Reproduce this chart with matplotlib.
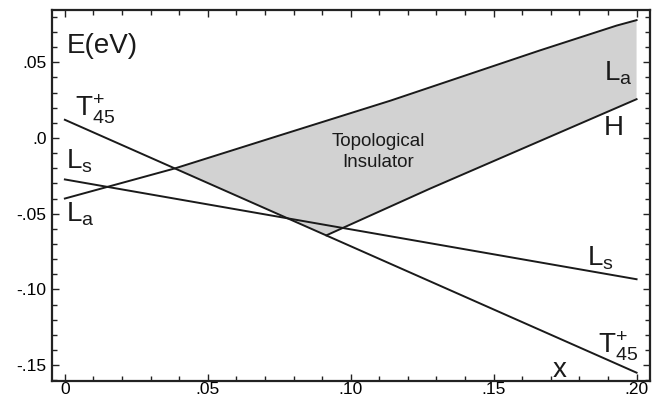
import matplotlib
matplotlib.use("Agg")
import matplotlib.pyplot as plt
import numpy as np
from matplotlib.ticker import MultipleLocator, FixedLocator, FixedFormatter

plt.rcParams['font.family'] = ['Liberation Sans', 'DejaVu Sans']
plt.rcParams['mathtext.fontset'] = 'custom'
plt.rcParams['mathtext.rm'] = 'Liberation Sans'
plt.rcParams['mathtext.it'] = 'Liberation Sans'

# Data
t45_x = [0.0, 0.20]
t45_y = [0.012, -0.155]

ls_x = [0.0, 0.20]
ls_y = [-0.0274, -0.0933]

la_x = [0.0, 0.0385, 0.075, 0.114, 0.166, 0.193, 0.20]
la_y = [-0.040, -0.0201, 0.0016, 0.0247, 0.0577, 0.0742, 0.0778]

h_x = [0.0915, 0.1277, 0.20]
h_y = [-0.0643, -0.0335, 0.0256]

# Shaded region (topological insulator): between L_a and T45+/H
shade_top_x = [0.0385, 0.075, 0.114, 0.166, 0.193, 0.20]
shade_top_y = [-0.0201, 0.0016, 0.0247, 0.0577, 0.0742, 0.0778]
shade_bot_x = [0.0385, 0.0915, 0.1277, 0.20]
shade_bot_y = [-0.0201, -0.0643, -0.0335, 0.0256]

xticks = [0.0, 0.05, 0.10, 0.15, 0.20]
xticklabels = ['0', '.05', '.10', '.15', '.20']
yticks = [-0.15, -0.10, -0.05, 0.0, 0.05]
yticklabels = ['-.15', '-.10', '-.05', '.0', '.05']

fig = plt.figure(figsize=(6.72, 3.98), dpi=100)
ax = fig.add_axes([52/672, 1 - 381/398, (650-52)/672, (381-10)/398])

poly_x = shade_top_x + shade_bot_x[::-1]
poly_y = shade_top_y + shade_bot_y[::-1]
ax.fill(poly_x, poly_y, color='#d2d2d2', lw=0, zorder=1)

lw = 1.4
ax.plot(t45_x, t45_y, color='#1a1a1a', lw=lw, zorder=2)
ax.plot(ls_x, ls_y, color='#1a1a1a', lw=lw, zorder=2)
ax.plot(la_x, la_y, color='#1a1a1a', lw=lw, zorder=2)
ax.plot(h_x, h_y, color='#1a1a1a', lw=lw, zorder=2)

ax.set_xlim(-0.0045, 0.2047)
ax.set_ylim(-0.1605, 0.0845)

ax.xaxis.set_major_locator(FixedLocator(xticks))
ax.xaxis.set_major_formatter(FixedFormatter(xticklabels))
ax.yaxis.set_major_locator(FixedLocator(yticks))
ax.yaxis.set_major_formatter(FixedFormatter(yticklabels))
ax.xaxis.set_minor_locator(MultipleLocator(0.01))
ax.yaxis.set_minor_locator(MultipleLocator(0.01))
ax.tick_params(which='both', direction='in', top=True, right=True, color='#222222', width=1.0)
ax.tick_params(which='major', length=5, labelsize=12.5)
ax.tick_params(axis='y', which='major', pad=4)
ax.tick_params(axis='x', which='major', pad=1)
ax.tick_params(which='minor', length=3.5)
for s in ax.spines.values():
    s.set_linewidth(1.6)
    s.set_color('#222222')

tc = '#1a1a1a'
fs = 20
ax.text(0.0005, 0.061, 'E(eV)', fontsize=fs, color=tc, va='center', ha='left')
ax.text(0.1095, -0.0092, 'Topological\nInsulator', fontsize=13.5, color=tc, ha='center', va='center', linespacing=1.3)
ax.text(0.0035, 0.019, r'$\mathrm{T^{+}_{45}}$', fontsize=fs, color=tc, va='center', ha='left')
ax.text(0.0005, -0.0155, r'$\mathrm{L_s}$', fontsize=fs, color=tc, va='center', ha='left')
ax.text(0.0005, -0.0505, r'$\mathrm{L_a}$', fontsize=fs, color=tc, va='center', ha='left')
ax.text(0.1885, 0.0425, r'$\mathrm{L_a}$', fontsize=fs, color=tc, va='center', ha='left')
ax.text(0.1885, 0.0065, 'H', fontsize=fs, color=tc, va='center', ha='left')
ax.text(0.1825, -0.0795, r'$\mathrm{L_s}$', fontsize=fs, color=tc, va='center', ha='left')
ax.text(0.1865, -0.1375, r'$\mathrm{T^{+}_{45}}$', fontsize=fs, color=tc, va='center', ha='left')
ax.text(0.1705, -0.1535, 'x', fontsize=fs, color=tc, va='center', ha='left')

fig.savefig('out.png', dpi=100)
